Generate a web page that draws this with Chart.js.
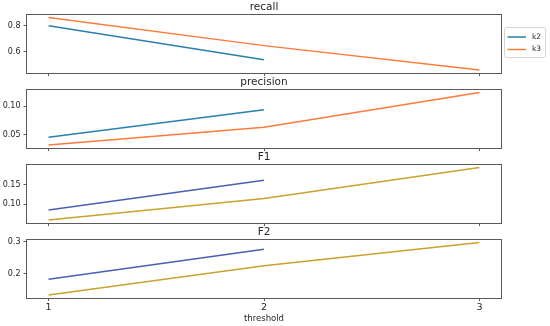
<!DOCTYPE html>
<html><head><meta charset="utf-8">
<script src="https://cdn.jsdelivr.net/npm/chart.js@4/dist/chart.umd.min.js"></script>
<style>
html,body{margin:0;padding:0;background:#fff;}
#wrap{position:relative;width:550px;height:326px;background:#fff;}
canvas{position:absolute;left:0;top:0;}
</style></head><body>
<div id="wrap">
<canvas id="c0" width="550" height="326"></canvas>
<canvas id="c1" width="550" height="326"></canvas>
<canvas id="c2" width="550" height="326"></canvas>
<canvas id="c3" width="550" height="326"></canvas>
</div>
<script>
// ---- data ----
const thresholds = [1, 2, 3];
const xTicks = [1, 2, 3];
const seriesNames = ['k2', 'k3'];
const panelTitles = ['recall', 'precision', 'F1', 'F2'];
const recallK2 = [0.800, 0.538];
const recallK3 = [0.862, 0.646, 0.459];
const precisionK2 = [0.0458, 0.094];
const precisionK3 = [0.0323, 0.0634, 0.124];
const f1K2 = [0.085, 0.161];
const f1K3 = [0.060, 0.1145, 0.193];
const f2K2 = [0.1825, 0.277];
const f2K3 = [0.133, 0.225, 0.298];
const recallTicks = [0.6, 0.8];
const precisionTicks = [0.05, 0.10];
const f1Ticks = [0.10, 0.15];
const f2Ticks = [0.2, 0.3];

// ---- style / layout ----
const FONT = 'DejaVu Sans';
const AX = '#5a5a5a';
const TXT = '#262626';
const PLOT_H = 57.5;
const topColors = ['#2a7fab', '#fe7b3c'];
const lowColors = ['#4b5fae', '#c9a32c'];

const panels = [
  {title: panelTitles[0], k2: recallK2, k3: recallK3, ticks: recallTicks, dec: 1, colors: topColors, top: 15},
  {title: panelTitles[1], k2: precisionK2, k3: precisionK3, ticks: precisionTicks, dec: 2, colors: topColors, top: 90},
  {title: panelTitles[2], k2: f1K2, k3: f1K3, ticks: f1Ticks, dec: 2, colors: lowColors, top: 165},
  {title: panelTitles[3], k2: f2K2, k3: f2K3, ticks: f2Ticks, dec: 1, colors: lowColors, top: 240}
];

const framePlugin = {
  id: 'frame',
  afterDatasetsDraw(chart) {
    const {ctx, chartArea: a} = chart;
    ctx.save();
    ctx.strokeStyle = AX;
    ctx.lineWidth = 1;
    ctx.strokeRect(Math.round(a.left) - 0.5, Math.round(a.top) - 0.5,
                   Math.round(a.right) - Math.round(a.left) + 1, Math.round(a.bottom) - Math.round(a.top) + 1);
    ctx.restore();
  }
};

const titlePlugin = {
  id: 'panelTitle',
  afterDraw(chart, args, opts) {
    if (!opts || !opts.text) return;
    const {ctx, chartArea: a} = chart;
    ctx.save();
    ctx.fillStyle = TXT;
    ctx.font = '10.5px "' + FONT + '"';
    ctx.textAlign = 'center';
    ctx.textBaseline = 'alphabetic';
    ctx.fillText(opts.text, (a.left + a.right) / 2, a.top - 5.5);
    ctx.restore();
  }
};

const legendPlugin = {
  id: 'panelLegend',
  afterDraw(chart, args, opts) {
    if (!opts || !opts.show) return;
    const ctx = chart.ctx;
    const x = 504.5, y = 27.5, w = 41, h = 30, r = 2.5;
    ctx.save();
    ctx.beginPath();
    ctx.moveTo(x + r, y);
    ctx.arcTo(x + w, y, x + w, y + h, r);
    ctx.arcTo(x + w, y + h, x, y + h, r);
    ctx.arcTo(x, y + h, x, y, r);
    ctx.arcTo(x, y, x + w, y, r);
    ctx.closePath();
    ctx.fillStyle = 'rgba(255,255,255,0.8)';
    ctx.fill();
    ctx.strokeStyle = '#d6d6d6';
    ctx.lineWidth = 1;
    ctx.stroke();
    chart.data.datasets.forEach((ds, i) => {
      const ly = 37 + i * 12.5;
      ctx.strokeStyle = ds.borderColor;
      ctx.lineWidth = 1.5;
      ctx.beginPath();
      ctx.moveTo(507.5, ly);
      ctx.lineTo(526, ly);
      ctx.stroke();
      ctx.fillStyle = TXT;
      ctx.font = '7.5px "' + FONT + '"';
      ctx.textAlign = 'left';
      ctx.textBaseline = 'middle';
      ctx.fillText(ds.label, 532, ly);
    });
    ctx.restore();
  }
};

function makePanel(idx, p) {
  const isBottom = idx === panels.length - 1;
  const plotTop = p.top, plotBottom = p.top + PLOT_H;
  const xAxisH = isBottom ? (326 - plotBottom) : 4;
  const padBottom = 326 - plotBottom - xAxisH;
  const all = p.k2.concat(p.k3);
  const lo = Math.min(...all), hi = Math.max(...all), m = (hi - lo) * 0.05;
  const series = [p.k2, p.k3];
  new Chart(document.getElementById('c' + idx), {
    type: 'line',
    data: {
      datasets: series.map((vals, s) => ({
        label: seriesNames[s],
        data: vals.map((v, i) => ({x: thresholds[i], y: v})),
        borderColor: p.colors[s],
        backgroundColor: p.colors[s],
        borderWidth: 1.5,
        pointRadius: 0,
        tension: 0,
        fill: false
      }))
    },
    options: {
      responsive: false,
      animation: false,
      devicePixelRatio: 1,
      events: [],
      layout: {padding: {left: 0, right: 49, top: plotTop, bottom: padBottom}},
      plugins: {
        legend: {display: false},
        tooltip: {enabled: false},
        panelTitle: {text: p.title},
        panelLegend: {show: idx === 0}
      },
      scales: {
        x: {
          type: 'linear', min: 0.9, max: 3.1,
          afterBuildTicks: s => { s.ticks = xTicks.map(v => ({value: v})); },
          afterFit: s => { s.height = xAxisH; },
          grid: {display: true, drawOnChartArea: false, drawTicks: true, tickLength: 3.5, color: AX, lineWidth: 1},
          border: {display: false},
          ticks: {display: isBottom, padding: 1, autoSkip: false, maxRotation: 0,
                  font: {family: FONT, size: 9.5}, color: TXT, callback: v => String(v)},
          title: {display: isBottom, text: 'threshold', color: TXT,
                  font: {family: FONT, size: 8.5}, padding: {top: 0, bottom: 2}}
        },
        y: {
          type: 'linear', min: lo - m, max: hi + m,
          afterBuildTicks: s => { s.ticks = p.ticks.map(v => ({value: v})); },
          afterFit: s => { s.width = 27; },
          grid: {display: true, drawOnChartArea: false, drawTicks: true, tickLength: 3.5, color: AX, lineWidth: 1},
          border: {display: false},
          ticks: {padding: 3, font: {family: FONT, size: 8}, color: TXT, callback: v => Number(v).toFixed(p.dec)}
        }
      }
    },
    plugins: [framePlugin, titlePlugin, legendPlugin]
  });
}

panels.forEach((p, i) => makePanel(i, p));
</script>
</body></html>
